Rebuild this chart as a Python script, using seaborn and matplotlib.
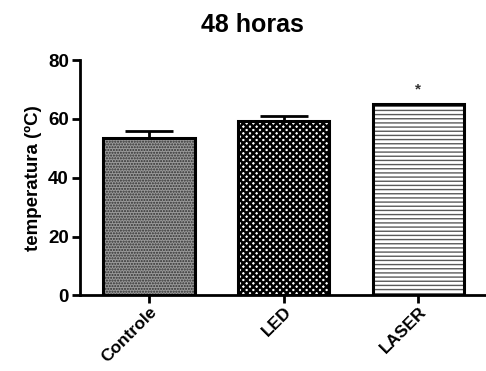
import matplotlib
matplotlib.use("Agg")
import matplotlib.pyplot as plt
import seaborn as sns
import pandas as pd

# Temperature after 48 h, per group (mean and error)
grupos = ["Controle", "LED", "LASER"]
medias = [53.5, 59.3, 65.0]
erros = [2.4, 1.8, 0.0]
significancia = ["", "", "*"]
yticks = [0, 20, 40, 60, 80]

sns.set_style("white")
plt.rcParams["font.family"] = ["Liberation Sans", "DejaVu Sans"]
plt.rcParams["text.color"] = "black"
plt.rcParams["axes.labelcolor"] = "black"
plt.rcParams["xtick.color"] = "black"
plt.rcParams["ytick.color"] = "black"
plt.rcParams["hatch.linewidth"] = 1.0

df = pd.DataFrame({"grupo": grupos, "temp": medias})

fig = plt.figure(figsize=(4.86, 3.71), dpi=100)
ax = fig.add_axes([0.1646, 0.204, 0.835, 0.634])

# filled, patterned bars
sns.barplot(data=df, x="grupo", y="temp", ax=ax, width=0.68,
            errorbar=None, color="white", linewidth=0, saturation=1)
estilos = [
    dict(face="#9a9a9a", hatch="......", hc="#2e2e2e", hlw=1.0),
    dict(face="white", hatch="xxxxx", hc="black", hlw=1.8),
    dict(face="white", hatch="----", hc="#5a5a5a", hlw=1.0),
]
for p, st in zip(ax.patches, estilos):
    p.set_facecolor(st["face"])
    p.set_hatch(st["hatch"])
    p.set_edgecolor(st["hc"])
    p.set_linewidth(0)
    if hasattr(p, "set_hatch_linewidth"):
        p.set_hatch_linewidth(st["hlw"])

# black outline of each bar
sns.barplot(data=df, x="grupo", y="temp", ax=ax, width=0.68,
            errorbar=None, fill=False, edgecolor="black", linewidth=2.2)

# upper error bars
xs = list(range(len(grupos)))
for x, m, e in zip(xs, medias, erros):
    if e > 0:
        ax.errorbar([x], [m], yerr=[[0], [e]], fmt="none", ecolor="black",
                    elinewidth=2, capsize=17, capthick=2)

for x, m, s in zip(xs, medias, significancia):
    if s:
        ax.text(x, m + 5, s, ha="center", va="center", fontsize=11,
                fontweight="bold", color="#333333")

ax.set_ylim(0, 80)
ax.set_xlim(-0.51, 2.5)
ax.set_yticks(yticks)
ax.set_yticklabels([str(v) for v in yticks], fontsize=13.5, fontweight="bold")
ax.set_xticks(xs)
ax.set_xticklabels(grupos, rotation=45, ha="right", rotation_mode="anchor",
                   fontsize=12.5, fontweight="bold")
ax.set_xlabel("")
ax.set_ylabel("temperatura (ºC)", fontsize=13.5, fontweight="bold", labelpad=4)

sns.despine(ax=ax, top=True, right=True)
for side in ["left", "bottom"]:
    ax.spines[side].set_linewidth(2)
    ax.spines[side].set_color("black")
ax.tick_params(axis="both", which="major", direction="out", length=6,
               width=2, color="black", left=True, bottom=True, pad=2)
ax.tick_params(axis="x", pad=0.5)

fig.text(0.52, 0.933, "48 horas", ha="center", va="center",
         fontsize=18, fontweight="bold")

fig.savefig("out.png", dpi=100)
